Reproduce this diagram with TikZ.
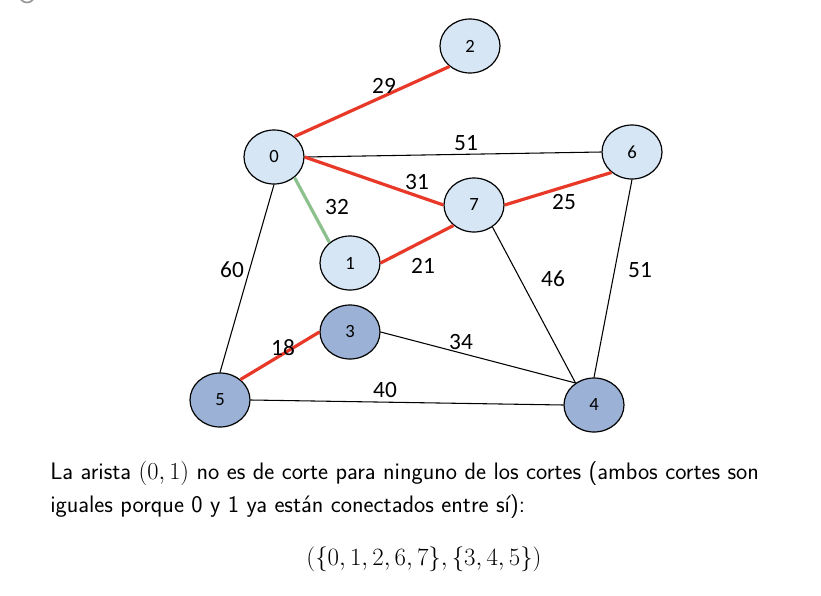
\documentclass[tikz,border=0pt]{standalone}
\usepackage{fontspec}
\usepackage{graphicx}
\newfontfamily\carlito{Carlito}
\usetikzlibrary{shapes.geometric}
\definecolor{lightnode}{RGB}{214,230,245}
\definecolor{darknode}{RGB}{155,178,214}
\definecolor{redge}{RGB}{232,56,40}
\definecolor{gedge}{RGB}{140,192,140}
\tikzset{
  vert/.style={ellipse, draw=black, line width=0.9pt, minimum width=45pt, minimum height=40.5pt, inner sep=0pt, font=\carlito\fontsize{14}{15}\selectfont},
  lightv/.style={vert, fill=lightnode},
  darkv/.style={vert, fill=darknode},
  plain/.style={draw=black, line width=0.8pt},
  redline/.style={draw=redge, line width=2.4pt},
  greenline/.style={draw=gedge, line width=2.4pt},
  wlabel/.style={font=\carlito\fontsize{17.5}{18}\selectfont, inner sep=0pt},
  bodytext/.style={anchor=base west, inner sep=0pt, font=\sffamily\fontsize{17.9}{22}\selectfont},
}
\begin{document}
\begin{tikzpicture}[x=0.75pt,y=-0.75pt]
\useasboundingbox (0,0) rectangle (821,596);
\begin{scope}
\clip (0,0) rectangle (821,596);
\draw[gray!80, line width=1.3pt] (27,-5) circle (7.5);
\end{scope}
% vertices
\node[lightv] (n2) at (470,46) {2};
\node[lightv] (n0) at (274,157) {0};
\node[lightv] (n6) at (632,152) {6};
\node[lightv] (n7) at (474,205) {7};
\node[lightv] (n1) at (350,263) {1};
\node[darkv] (n3) at (350,332) {3};
\node[darkv] (n5) at (220,400) {5};
\node[darkv] (n4) at (594,405) {4};
% edges
\draw[redline] (n0.45) -- (n2.-135);
\draw[plain] (n0.east) -- (n6.west);
\draw[redline] (n0.east) -- (n7.west);
\draw[greenline] (n0.-45) -- (n1.135);
\draw[plain] (n0.south) -- (n5.north);
\draw[redline] (n1.east) -- (n7.-135);
\draw[redline] (n7.east) -- (n6.-135);
\draw[plain] (n7.-50) -- (n4.130);
\draw[plain] (n6.south) -- (n4.north);
\draw[redline] (n3.west) -- (n5.45);
\draw[plain] (n3.east) -- (n4.130);
\draw[plain] (n5.east) -- (n4.west);
% weights
\node[wlabel] (w02) at (384,86) {29};
\node[wlabel] (w06) at (466,143) {51};
\node[wlabel] (w07) at (417,182) {31};
\node[wlabel] (w01) at (337,207) {32};
\node[wlabel] (w76) at (564,202) {25};
\node[wlabel] (w05) at (232,270) {60};
\node[wlabel] (w17) at (423,266) {21};
\node[wlabel] (w74) at (553,279) {46};
\node[wlabel] (w64) at (640,270) {51};
\node[wlabel] (w35) at (283,348) {18};
\node[wlabel] (w34) at (461,342) {34};
\node[wlabel] (w54) at (385,390) {40};
% text
\node[bodytext] (txt1) at (50,479)
  {La arista \scalebox{1.06}{$(0,1)$} no es de corte para ninguno de los cortes (ambos cortes son};
\node[bodytext] (txt2) at (50,512)
  {iguales porque 0 y 1 ya están conectados entre sí):};
\node[anchor=base, inner sep=0pt, font=\fontsize{17.28}{22}\selectfont] (cut) at (424,565)
  {\scalebox{1.08}{$(\{0,1,2,6,7\},\{3,4,5\})$}};
\end{tikzpicture}
\end{document}
